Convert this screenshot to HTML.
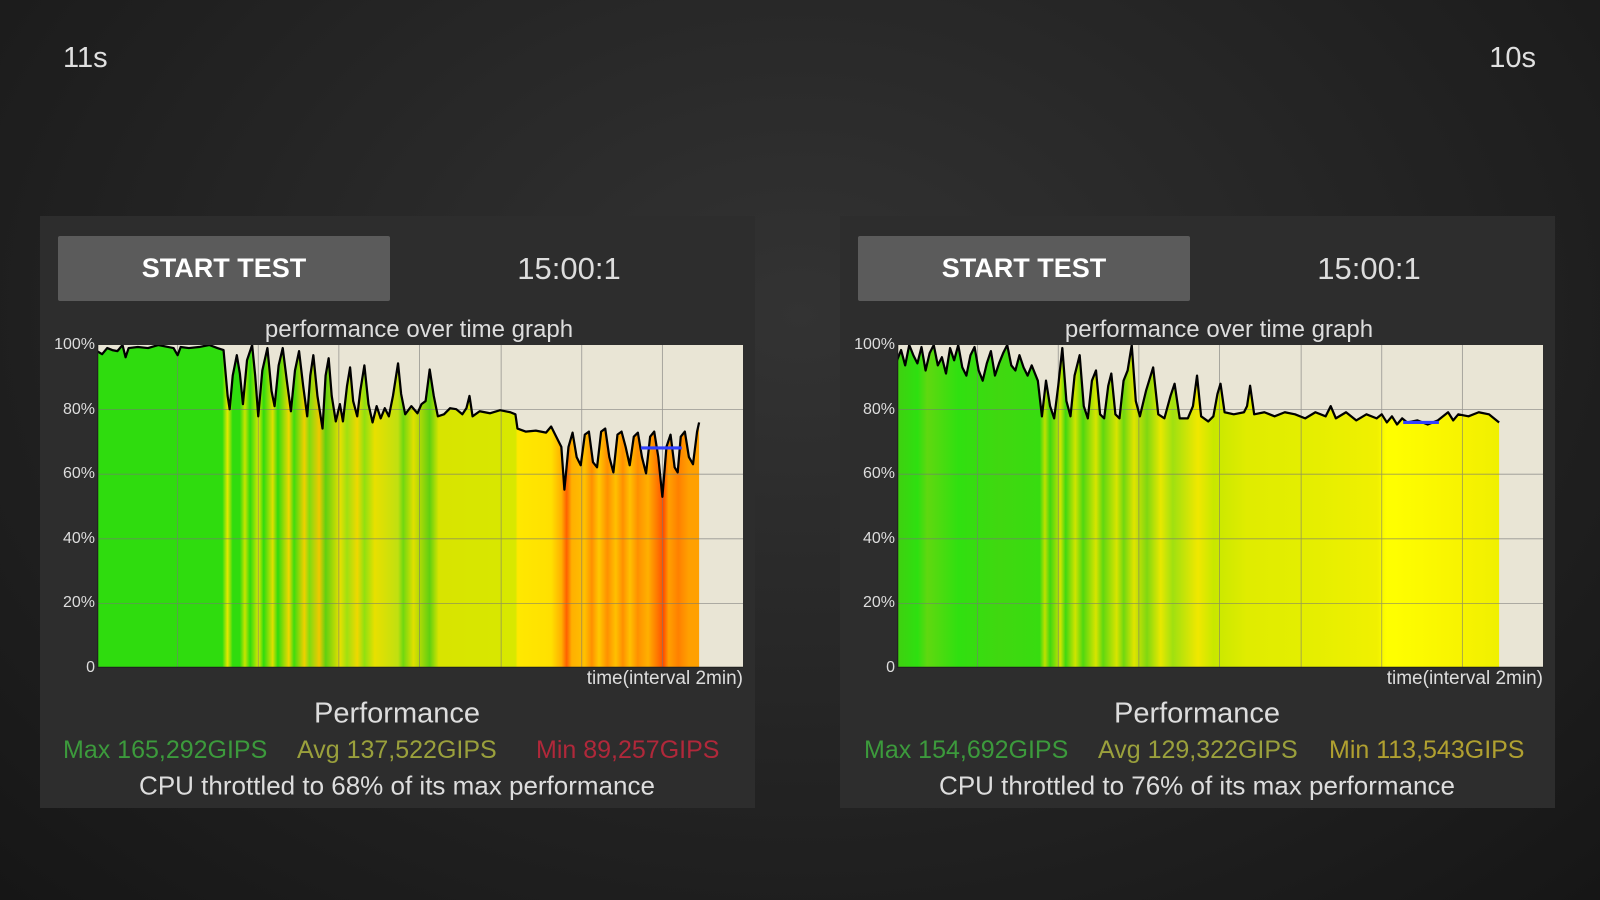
<!DOCTYPE html>
<html><head><meta charset="utf-8"><style>
*{margin:0;padding:0;box-sizing:border-box}
body{width:1600px;height:900px;overflow:hidden;font-family:"Liberation Sans",sans-serif;background:radial-gradient(ellipse at 50% 35%,#333 0%,#262626 45%,#161616 100%);position:relative}
.t{position:absolute;white-space:nowrap}
.panel{position:absolute;top:216px;width:715px;height:592px;background:#2d2d2d}
.btn{position:absolute;left:18px;top:20px;width:332px;height:65px;background:#5b5b5b;border-radius:2px;color:#fff;font-weight:bold;font-size:27px;text-align:center;line-height:65px}
.c{transform:translate(-50%,-50%)}
.plot{position:absolute;left:57px;top:129px;width:646px;height:323px}
.yl{position:absolute;right:660px;font-size:16px;color:#ddd;transform:translateY(-50%)}
</style></head><body>
<div class="t" style="left:63px;top:42px;font-size:29px;color:#e0e0e0">11s</div>
<div class="t" style="right:64px;top:42px;font-size:29px;color:#e0e0e0">10s</div>

<div class="panel" style="left:40px">
<div class="btn">START TEST</div>
<div class="t c" style="left:529px;top:53px;font-size:31px;color:#ddd">15:00:1</div>
<div class="t c" style="left:379px;top:114px;font-size:24px;color:#ddd">performance over time graph</div>
<div class="yl" style="top:129px">100%</div><div class="yl" style="top:194px">80%</div><div class="yl" style="top:258px">60%</div><div class="yl" style="top:323px">40%</div><div class="yl" style="top:387px">20%</div><div class="yl" style="top:452px">0</div>
<svg class="plot" viewBox="0 0 633 317" preserveAspectRatio="none">
<defs><linearGradient id="gl" gradientUnits="userSpaceOnUse" x1="0" y1="0" x2="633" y2="0">
<stop offset="0" stop-color="#2fdc0e"/><stop offset=".194" stop-color="#2fdc0e"/><stop offset=".202" stop-color="#e8e800"/><stop offset=".210" stop-color="#2fdc0e"/><stop offset=".221" stop-color="#2fdc0e"/><stop offset=".229" stop-color="#c8e400"/><stop offset=".237" stop-color="#2fdc0e"/><stop offset=".250" stop-color="#dce800"/><stop offset=".258" stop-color="#2fdc0e"/><stop offset=".272" stop-color="#e0e000"/><stop offset=".280" stop-color="#2fdc0e"/><stop offset=".297" stop-color="#f0d800"/><stop offset=".305" stop-color="#3fdc0e"/><stop offset=".321" stop-color="#f0d000"/><stop offset=".329" stop-color="#80dc10"/><stop offset=".344" stop-color="#f0c800"/><stop offset=".354" stop-color="#60d010"/><stop offset=".376" stop-color="#e8e000"/><stop offset=".387" stop-color="#a0e010"/><stop offset=".403" stop-color="#f0d800"/><stop offset=".414" stop-color="#90e010"/><stop offset=".430" stop-color="#e8e000"/><stop offset=".466" stop-color="#c0e010"/><stop offset=".474" stop-color="#70d810"/><stop offset=".490" stop-color="#e0e000"/><stop offset=".515" stop-color="#60d010"/><stop offset=".529" stop-color="#d8e400"/><stop offset=".648" stop-color="#d8e800"/><stop offset=".651" stop-color="#ffe800"/><stop offset=".703" stop-color="#ffe000"/><stop offset=".719" stop-color="#ffb000"/><stop offset=".727" stop-color="#ff6000"/><stop offset=".735" stop-color="#ffb000"/><stop offset=".755" stop-color="#ffc000"/><stop offset=".766" stop-color="#ff9000"/><stop offset=".777" stop-color="#ffc800"/><stop offset=".790" stop-color="#ff9000"/><stop offset=".803" stop-color="#ffc000"/><stop offset=".814" stop-color="#ff9000"/><stop offset=".825" stop-color="#ffc000"/><stop offset=".837" stop-color="#ff9000"/><stop offset=".853" stop-color="#ffb000"/><stop offset=".869" stop-color="#ff7000"/><stop offset=".877" stop-color="#ff5000"/><stop offset=".885" stop-color="#ffa000"/><stop offset=".900" stop-color="#ff8000"/><stop offset=".916" stop-color="#ffa000"/><stop offset=".932" stop-color="#ffa000"/>
</linearGradient></defs>
<rect width="633" height="317" fill="#e9e5d5"/>
<polygon fill="url(#gl)" points="0,317 0,6 5,9 10,3 15,5 20,6 25,0 28,12 31,3 40,2 50,3 60,0 70,2 75,3 79,10 82,2 90,3 100,2 110,0 118,3 124,5 128,50 130,63 133,30 137,10 140,28 143,58 147,15 152,0 155,30 158,70 162,25 167,3 171,45 174,60 178,20 182,3 186,35 190,65 194,25 198,6 202,40 206,70 209,30 212,10 216,50 221,82 224,30 227,13 230,50 234,75 238,58 241,75 245,40 248,22 251,55 255,70 258,45 262,20 266,58 270,76 274,60 278,72 282,62 286,70 290,50 295,18 298,48 302,68 308,60 314,67 318,58 322,55 326,24 330,50 334,70 340,68 346,62 352,63 358,68 362,62 365,50 368,70 375,65 385,67 395,64 405,66 410,68 412,82 420,85 430,84 440,86 445,80 450,90 455,100 458,142 462,100 466,86 470,110 474,118 478,88 482,85 486,115 490,120 494,85 498,82 502,110 506,125 510,88 514,85 518,100 522,118 526,90 530,86 534,110 538,126 542,90 546,85 550,110 554,149 558,100 562,88 566,120 569,125 572,90 576,85 580,110 584,117 588,85 590,76 590,317"/>
<g stroke="#777" stroke-width="0.8" opacity=".7"><line x1="79" y1="0" x2="79" y2="317"/><line x1="158" y1="0" x2="158" y2="317"/><line x1="237" y1="0" x2="237" y2="317"/><line x1="316" y1="0" x2="316" y2="317"/><line x1="396" y1="0" x2="396" y2="317"/><line x1="475" y1="0" x2="475" y2="317"/><line x1="554" y1="0" x2="554" y2="317"/><line x1="0" y1="63.4" x2="633" y2="63.4"/><line x1="0" y1="126.8" x2="633" y2="126.8"/><line x1="0" y1="190.2" x2="633" y2="190.2"/><line x1="0" y1="253.6" x2="633" y2="253.6"/></g>
<polyline fill="none" stroke="#000" stroke-width="2.2" stroke-linejoin="round" points="0,6 5,9 10,3 15,5 20,6 25,0 28,12 31,3 40,2 50,3 60,0 70,2 75,3 79,10 82,2 90,3 100,2 110,0 118,3 124,5 128,50 130,63 133,30 137,10 140,28 143,58 147,15 152,0 155,30 158,70 162,25 167,3 171,45 174,60 178,20 182,3 186,35 190,65 194,25 198,6 202,40 206,70 209,30 212,10 216,50 221,82 224,30 227,13 230,50 234,75 238,58 241,75 245,40 248,22 251,55 255,70 258,45 262,20 266,58 270,76 274,60 278,72 282,62 286,70 290,50 295,18 298,48 302,68 308,60 314,67 318,58 322,55 326,24 330,50 334,70 340,68 346,62 352,63 358,68 362,62 365,50 368,70 375,65 385,67 395,64 405,66 410,68 412,82 420,85 430,84 440,86 445,80 450,90 455,100 458,142 462,100 466,86 470,110 474,118 478,88 482,85 486,115 490,120 494,85 498,82 502,110 506,125 510,88 514,85 518,100 522,118 526,90 530,86 534,110 538,126 542,90 546,85 550,110 554,149 558,100 562,88 566,120 569,125 572,90 576,85 580,110 584,117 588,85 590,76"/>
<line x1="533" y1="101" x2="573" y2="101" stroke="#3040ff" stroke-width="3"/>
<line x1="0.5" y1="0" x2="0.5" y2="317" stroke="#222" stroke-width="1.5"/><line x1="0" y1="316.5" x2="633" y2="316.5" stroke="#222" stroke-width="1.5"/>
</svg>
<div class="t" style="right:12px;top:452px;font-size:19px;color:#ddd">time(interval 2min)</div>
<div class="t c" style="left:357px;top:498px;font-size:29px;color:#ddd">Performance</div>
<div class="t" style="left:23px;top:520px;font-size:25px;color:#3c9a3c">Max 165,292GIPS</div>
<div class="t" style="left:257px;top:520px;font-size:25px;color:#9aa03c">Avg 137,522GIPS</div>
<div class="t" style="left:496px;top:520px;font-size:25px;color:#b0283a">Min 89,257GIPS</div>
<div class="t c" style="left:357px;top:570px;font-size:26px;color:#ddd">CPU throttled to 68% of its max performance</div>
</div>

<div class="panel" style="left:840px">
<div class="btn">START TEST</div>
<div class="t c" style="left:529px;top:53px;font-size:31px;color:#ddd">15:00:1</div>
<div class="t c" style="left:379px;top:114px;font-size:24px;color:#ddd">performance over time graph</div>
<div class="yl" style="top:129px">100%</div><div class="yl" style="top:194px">80%</div><div class="yl" style="top:258px">60%</div><div class="yl" style="top:323px">40%</div><div class="yl" style="top:387px">20%</div><div class="yl" style="top:452px">0</div>
<svg class="plot" viewBox="0 0 633 317" preserveAspectRatio="none">
<defs><linearGradient id="gr" gradientUnits="userSpaceOnUse" x1="0" y1="0" x2="633" y2="0">
<stop offset="0" stop-color="#40d010"/><stop offset=".032" stop-color="#2ee010"/><stop offset=".047" stop-color="#60d810"/><stop offset=".095" stop-color="#30e010"/><stop offset=".158" stop-color="#40d810"/><stop offset=".221" stop-color="#38dc10"/><stop offset=".229" stop-color="#c0e000"/><stop offset=".237" stop-color="#40d810"/><stop offset=".253" stop-color="#d0e400"/><stop offset=".261" stop-color="#40d810"/><stop offset=".276" stop-color="#d0e400"/><stop offset=".288" stop-color="#50d810"/><stop offset=".308" stop-color="#d8e400"/><stop offset=".319" stop-color="#60d810"/><stop offset=".340" stop-color="#d8e400"/><stop offset=".351" stop-color="#70d810"/><stop offset=".367" stop-color="#e0e400"/><stop offset=".387" stop-color="#80d810"/><stop offset=".408" stop-color="#e8e800"/><stop offset=".427" stop-color="#a0e010"/><stop offset=".466" stop-color="#f0e800"/><stop offset=".490" stop-color="#c8e800"/><stop offset=".542" stop-color="#e0ec00"/><stop offset=".632" stop-color="#e4ee00"/><stop offset=".743" stop-color="#f0f000"/><stop offset=".758" stop-color="#ffff00"/><stop offset=".869" stop-color="#f8f400"/><stop offset=".932" stop-color="#f0f000"/>
</linearGradient></defs>
<rect width="633" height="317" fill="#e9e5d5"/>
<polygon fill="url(#gr)" points="0,317 0,15 4,5 8,20 12,0 16,10 20,18 24,2 28,25 32,8 36,0 40,20 44,12 48,28 52,3 56,15 60,0 64,22 68,30 72,10 76,2 80,25 84,35 88,18 92,6 96,30 100,18 104,8 108,0 112,20 116,25 120,10 124,22 128,30 132,20 138,35 142,70 146,35 150,60 154,72 158,40 162,3 166,55 170,70 174,30 179,10 183,60 187,72 191,35 195,25 199,68 203,72 207,40 210,28 214,68 218,72 222,35 226,25 230,0 234,55 238,70 244,45 251,22 256,68 262,72 268,50 272,38 277,72 285,72 290,60 294,30 298,70 305,75 310,70 314,48 317,38 321,66 330,68 340,66 343,60 346,40 350,68 360,66 370,70 380,66 390,68 400,72 410,66 420,70 425,60 430,72 440,66 450,74 460,68 470,72 475,68 480,76 485,70 490,78 495,72 500,76 510,74 520,78 530,74 540,66 545,74 550,68 560,70 570,66 580,68 585,72 590,76 590,317"/>
<g stroke="#777" stroke-width="0.8" opacity=".7"><line x1="79" y1="0" x2="79" y2="317"/><line x1="158" y1="0" x2="158" y2="317"/><line x1="237" y1="0" x2="237" y2="317"/><line x1="316" y1="0" x2="316" y2="317"/><line x1="396" y1="0" x2="396" y2="317"/><line x1="475" y1="0" x2="475" y2="317"/><line x1="554" y1="0" x2="554" y2="317"/><line x1="0" y1="63.4" x2="633" y2="63.4"/><line x1="0" y1="126.8" x2="633" y2="126.8"/><line x1="0" y1="190.2" x2="633" y2="190.2"/><line x1="0" y1="253.6" x2="633" y2="253.6"/></g>
<polyline fill="none" stroke="#000" stroke-width="2.2" stroke-linejoin="round" points="0,15 4,5 8,20 12,0 16,10 20,18 24,2 28,25 32,8 36,0 40,20 44,12 48,28 52,3 56,15 60,0 64,22 68,30 72,10 76,2 80,25 84,35 88,18 92,6 96,30 100,18 104,8 108,0 112,20 116,25 120,10 124,22 128,30 132,20 138,35 142,70 146,35 150,60 154,72 158,40 162,3 166,55 170,70 174,30 179,10 183,60 187,72 191,35 195,25 199,68 203,72 207,40 210,28 214,68 218,72 222,35 226,25 230,0 234,55 238,70 244,45 251,22 256,68 262,72 268,50 272,38 277,72 285,72 290,60 294,30 298,70 305,75 310,70 314,48 317,38 321,66 330,68 340,66 343,60 346,40 350,68 360,66 370,70 380,66 390,68 400,72 410,66 420,70 425,60 430,72 440,66 450,74 460,68 470,72 475,68 480,76 485,70 490,78 495,72 500,76 510,74 520,78 530,74 540,66 545,74 550,68 560,70 570,66 580,68 585,72 590,76"/>
<line x1="496" y1="76" x2="531" y2="76" stroke="#3040ff" stroke-width="3"/>
<line x1="0.5" y1="0" x2="0.5" y2="317" stroke="#222" stroke-width="1.5"/><line x1="0" y1="316.5" x2="633" y2="316.5" stroke="#222" stroke-width="1.5"/>
</svg>
<div class="t" style="right:12px;top:452px;font-size:19px;color:#ddd">time(interval 2min)</div>
<div class="t c" style="left:357px;top:498px;font-size:29px;color:#ddd">Performance</div>
<div class="t" style="left:24px;top:520px;font-size:25px;color:#3c9a3c">Max 154,692GIPS</div>
<div class="t" style="left:258px;top:520px;font-size:25px;color:#9aa03c">Avg 129,322GIPS</div>
<div class="t" style="left:489px;top:520px;font-size:25px;color:#b0a030">Min 113,543GIPS</div>
<div class="t c" style="left:357px;top:570px;font-size:26px;color:#ddd">CPU throttled to 76% of its max performance</div>
</div>
</body></html>
